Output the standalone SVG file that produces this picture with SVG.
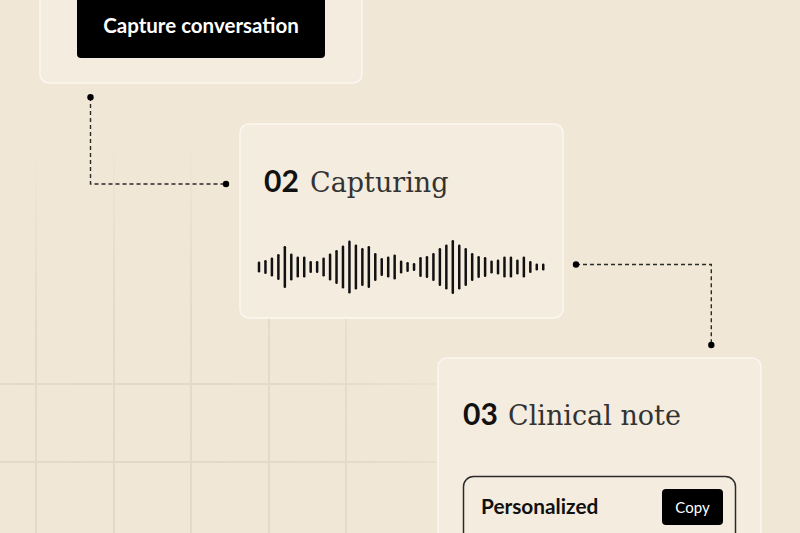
<svg xmlns="http://www.w3.org/2000/svg" width="800" height="533" viewBox="0 0 800 533">
<style>
.card{fill:#f4ecdf;stroke:#fbf7f0;stroke-width:1.5}
.btn{fill:#000}
.num{font-family:Lato,"Liberation Sans",sans-serif;font-weight:700;fill:#111}
.ttl{font-family:"DejaVu Serif","Liberation Serif",serif;fill:#333}
.wf rect{fill:#111}
.conn{fill:none;stroke:#2a2a2a;stroke-width:1.4;stroke-dasharray:4 3}
.dot{fill:#000}
.grid line{stroke:#e2d8c6;stroke-width:2}
</style>
<defs>
<radialGradient id="fade" cx="150" cy="520" r="380" gradientUnits="userSpaceOnUse">
<stop offset="0" stop-color="#fff"/>
<stop offset="0.6" stop-color="#fff" stop-opacity="0.8"/>
<stop offset="1" stop-color="#fff" stop-opacity="0"/>
</radialGradient>
<mask id="gm"><rect width="800" height="533" fill="url(#fade)"/></mask>
</defs>
<rect width="800" height="533" fill="#f0e7d7"/>
<g class="grid" mask="url(#gm)">
<line x1="36" y1="150" x2="36" y2="533"/>
<line x1="114" y1="150" x2="114" y2="533"/>
<line x1="191" y1="150" x2="191" y2="533"/>
<line x1="269" y1="150" x2="269" y2="533"/>
<line x1="346" y1="150" x2="346" y2="533"/>
<line x1="0" y1="384" x2="500" y2="384"/>
<line x1="0" y1="462" x2="500" y2="462"/>
</g>
<g id="node-capture">
<rect class="card" x="40" y="-20" width="322" height="103" rx="9"/>
<rect class="btn" x="77" y="-10" width="248" height="68" rx="4"/>
<text x="201" y="32.5" text-anchor="middle" font-family="Lato,'Liberation Sans',sans-serif" font-weight="700" font-size="20.5" fill="#fff">Capture conversation</text>
</g>
<g id="node-capturing">
<rect class="card" x="240" y="124" width="323" height="194" rx="9"/>
<text class="num" x="264" y="192" font-size="30">02</text>
<text class="ttl" x="310" y="192" font-size="27">Capturing</text>
<g class="wf">
<rect x="257.75" y="261.5" width="2.5" height="11" rx="1.2"/>
<rect x="264.21" y="260" width="2.5" height="14" rx="1.2"/>
<rect x="270.67" y="257.5" width="2.5" height="19" rx="1.2"/>
<rect x="277.13" y="254" width="2.5" height="26" rx="1.2"/>
<rect x="283.59" y="246" width="2.5" height="42" rx="1.2"/>
<rect x="290.05" y="253.5" width="2.5" height="27" rx="1.2"/>
<rect x="296.51" y="256.5" width="2.5" height="21" rx="1.2"/>
<rect x="302.97" y="256.5" width="2.5" height="21" rx="1.2"/>
<rect x="309.43" y="261" width="2.5" height="12" rx="1.2"/>
<rect x="315.89" y="261" width="2.5" height="12" rx="1.2"/>
<rect x="322.35" y="257.5" width="2.5" height="19" rx="1.2"/>
<rect x="328.81" y="253.5" width="2.5" height="27" rx="1.2"/>
<rect x="335.27" y="250" width="2.5" height="34" rx="1.2"/>
<rect x="341.73" y="245.5" width="2.5" height="43" rx="1.2"/>
<rect x="348.19" y="240.5" width="2.5" height="53" rx="1.2"/>
<rect x="354.65" y="244.5" width="2.5" height="45" rx="1.2"/>
<rect x="361.11" y="248" width="2.5" height="38" rx="1.2"/>
<rect x="367.57" y="246" width="2.5" height="42" rx="1.2"/>
<rect x="374.03" y="253" width="2.5" height="28" rx="1.2"/>
<rect x="380.49" y="258" width="2.5" height="18" rx="1.2"/>
<rect x="386.95" y="256.5" width="2.5" height="21" rx="1.2"/>
<rect x="393.41" y="254.5" width="2.5" height="25" rx="1.2"/>
<rect x="399.87" y="260.5" width="2.5" height="13" rx="1.2"/>
<rect x="406.33" y="262" width="2.5" height="10" rx="1.2"/>
<rect x="412.79" y="263" width="2.5" height="8" rx="1.2"/>
<rect x="419.25" y="257" width="2.5" height="20" rx="1.2"/>
<rect x="425.71" y="256" width="2.5" height="22" rx="1.2"/>
<rect x="432.17" y="253" width="2.5" height="28" rx="1.2"/>
<rect x="438.63" y="248" width="2.5" height="38" rx="1.2"/>
<rect x="445.09" y="244.5" width="2.5" height="45" rx="1.2"/>
<rect x="451.55" y="240" width="2.5" height="54" rx="1.2"/>
<rect x="458.01" y="244.5" width="2.5" height="45" rx="1.2"/>
<rect x="464.47" y="248" width="2.5" height="38" rx="1.2"/>
<rect x="470.93" y="253" width="2.5" height="28" rx="1.2"/>
<rect x="477.39" y="256" width="2.5" height="22" rx="1.2"/>
<rect x="483.85" y="257" width="2.5" height="20" rx="1.2"/>
<rect x="490.31" y="260.5" width="2.5" height="13" rx="1.2"/>
<rect x="496.77" y="259.5" width="2.5" height="15" rx="1.2"/>
<rect x="503.23" y="256.5" width="2.5" height="21" rx="1.2"/>
<rect x="509.69" y="256.5" width="2.5" height="21" rx="1.2"/>
<rect x="516.15" y="259.5" width="2.5" height="15" rx="1.2"/>
<rect x="522.61" y="256.5" width="2.5" height="21" rx="1.2"/>
<rect x="529.07" y="261" width="2.5" height="12" rx="1.2"/>
<rect x="535.53" y="263.5" width="2.5" height="7" rx="1.2"/>
<rect x="541.99" y="263.5" width="2.5" height="7" rx="1.2"/>
</g>
</g>
<g id="node-clinical-note">
<rect class="card" x="438" y="358" width="323" height="200" rx="9"/>
<text class="num" x="463" y="425" font-size="30">03</text>
<text class="ttl" x="508" y="425" font-size="27">Clinical note</text>
<rect x="463.5" y="476.5" width="272" height="80" rx="10" fill="#f4ecdf" stroke="#2a2a2a" stroke-width="1.5"/>
<text x="481" y="514" font-family="Lato,'Liberation Sans',sans-serif" font-weight="700" font-size="20.8" fill="#111">Personalized</text>
<rect class="btn" x="662" y="489" width="61" height="36" rx="4"/>
<text x="692.5" y="513" text-anchor="middle" font-family="Lato,'Liberation Sans',sans-serif" font-size="15" fill="#fff">Copy</text>
</g>
<g id="connectors">
<path class="conn" d="M90.5 97 V184 H226"/>
<circle class="dot" cx="90.5" cy="97.3" r="3.2"/>
<circle class="dot" cx="226" cy="184" r="3.2"/>
<path class="conn" d="M576 264.5 H711.3 V345"/>
<circle class="dot" cx="576" cy="264.5" r="3.2"/>
<circle class="dot" cx="711.3" cy="345" r="3.2"/>
</g>
</svg>
